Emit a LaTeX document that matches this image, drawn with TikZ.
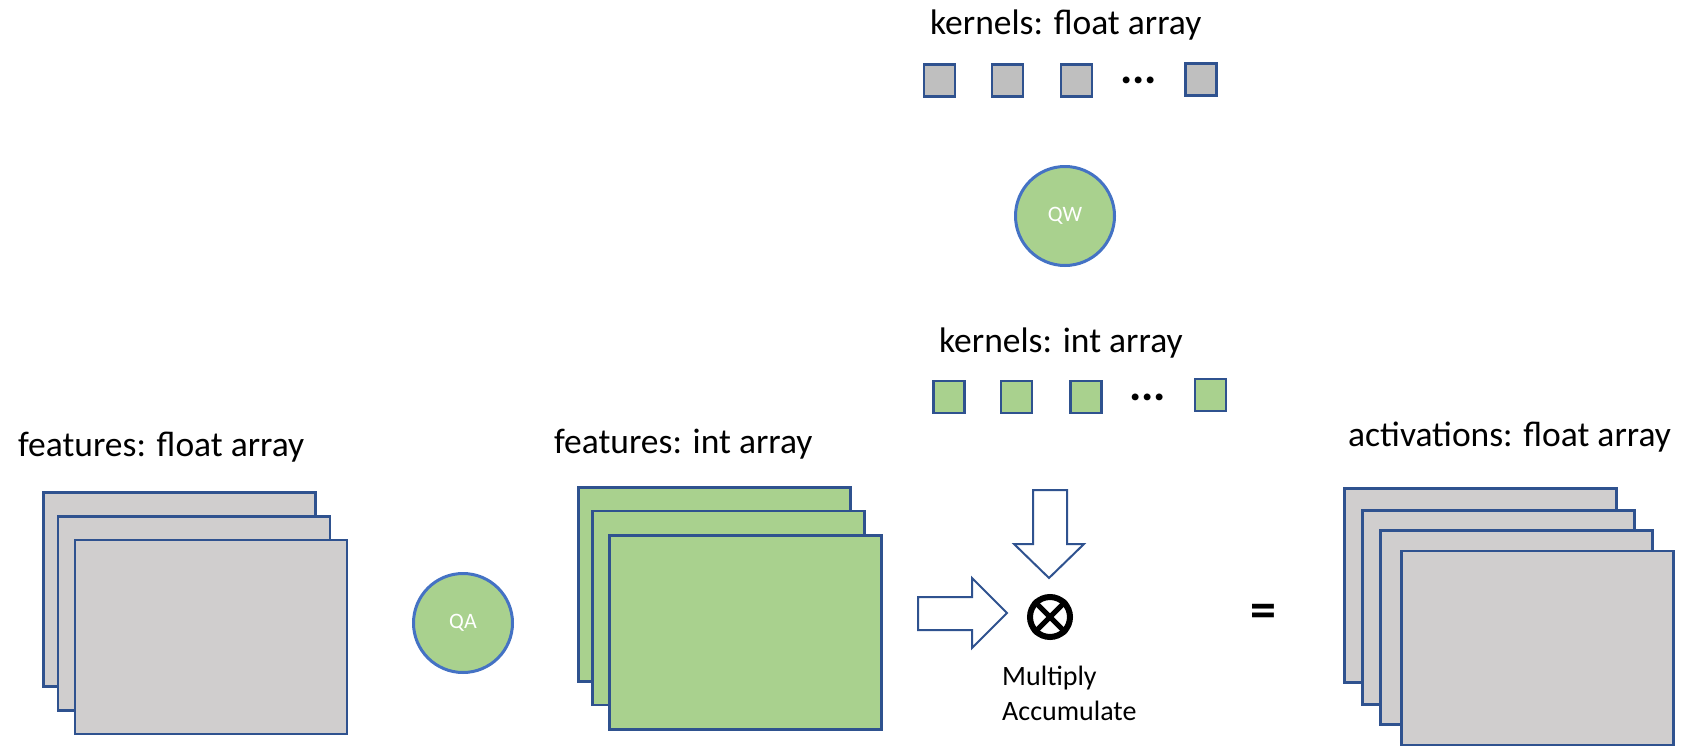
\documentclass[tikz,border=0pt]{standalone}
\usepackage{fontspec}
\setmainfont{Carlito}
\definecolor{edgeblue}{HTML}{2F528F}
\definecolor{ringblue}{HTML}{4472C4}
\definecolor{sheetgray}{HTML}{D0CECE}
\definecolor{boxgray}{HTML}{BFBFBF}
\definecolor{leafgreen}{HTML}{A9D18E}
\begin{document}
\begin{tikzpicture}[x=1pt,y=-1pt,
  sheet/.style={draw=edgeblue, line width=2.5pt, minimum width=272pt, minimum height=194pt, inner sep=0pt},
  graysheet/.style={sheet, fill=sheetgray},
  greensheet/.style={sheet, fill=leafgreen},
  kbox/.style={draw=edgeblue, line width=2.5pt, minimum width=31pt, minimum height=32pt, inner sep=0pt},
  graybox/.style={kbox, fill=boxgray},
  greenbox/.style={kbox, fill=leafgreen},
  quant/.style={circle, draw=ringblue, fill=leafgreen, line width=3pt, minimum size=99pt, inner sep=0pt, text=white, font=\fontsize{22}{26}\selectfont},
  biglabel/.style={anchor=base west, inner sep=0pt, font=\fontsize{35.5}{42}\selectfont},
  dotslabel/.style={inner sep=0pt, font=\fontsize{46}{50}\selectfont\bfseries},
  blockarrow/.style={draw=edgeblue, line width=2pt, fill=white, line join=miter}
]
\useasboundingbox (0,0) rectangle (1681,747);

% labels
\node[biglabel] (lff) at (18,456) {features: float array};
\node[biglabel] (lfi) at (554,453) {features: int array};
\node[biglabel] (laf) at (1348,446) {activations: float array};
\node[biglabel] (lkf) at (930,34) {kernels: float array};
\node[biglabel] (lki) at (939,352) {kernels: int array};

% left stack (float features)
\node[graysheet] (ff1) at (179.5,589.5) {};
\node[graysheet] (ff2) at (194,613.5) {};
\node[graysheet] (ff3) at (211,637) {};

% QA
\node[quant] (qa) at (463,623) {QA};

% middle stack (int features)
\node[greensheet] (fi1) at (714.5,584.5) {};
\node[greensheet] (fi2) at (728.5,608) {};
\node[greensheet] (fi3) at (745.5,632.5) {};

% right stack (activations)
\node[graysheet] (af1) at (1480.5,585.5) {};
\node[graysheet] (af2) at (1498.5,607.5) {};
\node[graysheet] (af3) at (1516.5,627.5) {};
\node[graysheet] (af4) at (1537.5,648) {};

% kernels float
\node[graybox] (kf1) at (939.5,80.5) {};
\node[graybox] (kf2) at (1007.5,80.5) {};
\node[graybox] (kf3) at (1076.5,80.5) {};
\node[dotslabel] (kfd) at (1138.5,80) {...};
\node[graybox] (kf4) at (1201,79.5) {};

% QW
\node[quant] (qw) at (1065,216) {QW};

% kernels int
\node[greenbox] (ki1) at (949,397) {};
\node[greenbox] (ki2) at (1016.5,397) {};
\node[greenbox] (ki3) at (1086,397) {};
\node[dotslabel] (kid) at (1147.5,397) {...};
\node[greenbox] (ki4) at (1210.5,395) {};

% multiply accumulate
\node[circle, draw=black, line width=6pt, minimum size=40pt, inner sep=0pt] (mac) at (1050,617) {};
\draw[line width=5pt] (mac.north west) -- (mac.south east);
\draw[line width=5pt] (mac.north east) -- (mac.south west);
\node[anchor=base west, align=left, inner sep=0pt, font=\fontsize{28}{35}\selectfont] (macl) at (1002,720) {Multiply\\Accumulate};

% block arrows into the MAC
\coordinate (dtip) at (1049,578);
\coordinate (rtip) at (1007,613);
\draw[blockarrow] (1033,490) -- (1067,490) -- (1067,544) -- (1084,544) -- (dtip) -- (1014,544) -- (1033,544) -- cycle;
\draw[blockarrow] (918,597) -- (972,597) -- (972,578) -- (rtip) -- (972,648) -- (972,630) -- (918,630) -- cycle;

% equals
\node[inner sep=0pt, font=\fontsize{52}{56}\selectfont\bfseries] (eq) at (1263.5,616) {=};
\end{tikzpicture}
\end{document}
